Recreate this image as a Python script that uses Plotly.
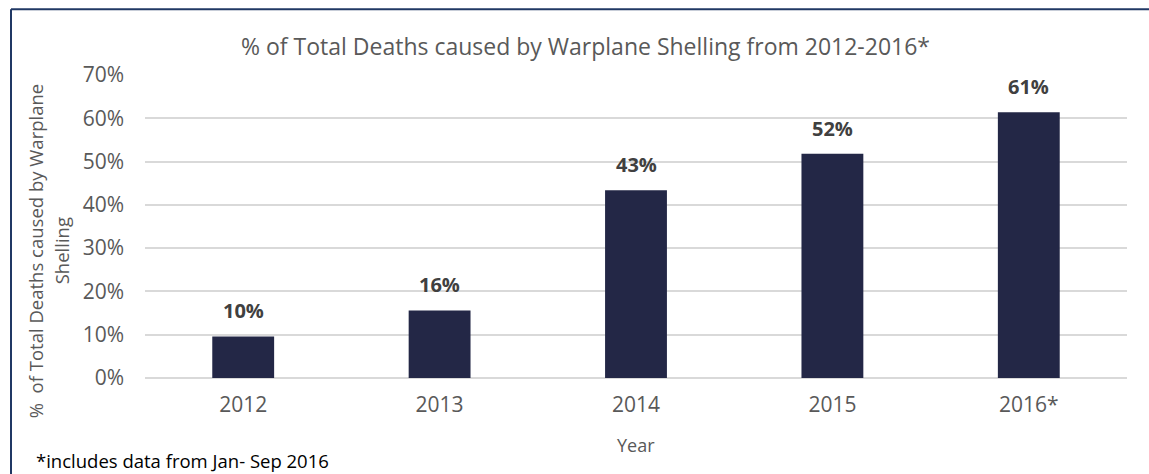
import plotly.graph_objects as go

years = ["2012", "2013", "2014", "2015", "2016*"]
values = [0.096, 0.156, 0.434, 0.518, 0.614]
labels = ["10%", "16%", "43%", "52%", "61%"]
tick_vals = [0, 0.1, 0.2, 0.3, 0.4, 0.5, 0.6, 0.7]
tick_text = ["0%", "10%", "20%", "30%", "40%", "50%", "60%", "70%"]

FONT = "Open Sans"
GREY = "#595959"
W, H = 1149, 474
L, R, T, B = 145, 22, 74.7, 96.3
pw, ph = W - L - R, H - T - B


def px(x):
    return (x - L) / pw


def py(y):
    return (H - B - y) / ph


fig = go.Figure(go.Bar(
    x=years, y=values,
    marker=dict(color="#232746", line=dict(width=0)),
    hoverinfo="skip",
))

# category axis: annotation x is the category's serial index
annotations = [
    dict(x=i, y=v, text=lab, xref="x", yref="y", yanchor="bottom", xanchor="center",
         yshift=10, showarrow=False,
         font=dict(family=FONT, size=20, color="#404040", weight="bold"))
    for i, (v, lab) in enumerate(zip(values, labels))
]
annotations += [
    dict(text="% of Total Deaths caused by Warplane Shelling from 2012-2016*",
         xref="paper", yref="paper", x=px(585), y=py(46), xanchor="center", yanchor="middle",
         showarrow=False, font=dict(family=FONT, size=23, color=GREY)),
    dict(text="%\u00a0\u00a0of Total Deaths caused by Warplane", textangle=-90,
         xref="paper", yref="paper", x=px(35), y=py(251), xanchor="center", yanchor="middle",
         showarrow=False, font=dict(family=FONT, size=18.5, color=GREY)),
    dict(text="Shelling", textangle=-90,
         xref="paper", yref="paper", x=px(61), y=py(251), xanchor="center", yanchor="middle",
         showarrow=False, font=dict(family=FONT, size=18.5, color=GREY)),
    dict(text="Year", xref="paper", yref="paper", x=0.5, y=py(445), xanchor="center",
         yanchor="middle", showarrow=False, font=dict(family=FONT, size=18, color=GREY)),
    dict(text="*includes data from Jan- Sep 2016", xref="paper", yref="paper",
         x=px(34), y=py(460), xanchor="left", yanchor="middle", showarrow=False,
         font=dict(family=FONT, size=18.5, color="#000000")),
]

BORDER = dict(color="#203864", width=2)

fig.update_layout(
    width=W, height=H,
    margin=dict(l=L, r=R, t=T, b=B),
    paper_bgcolor="white", plot_bgcolor="white",
    bargap=0.685,
    showlegend=False,
    font=dict(family=FONT, color=GREY),
    xaxis=dict(type="category", range=[-0.5, len(years) - 0.5], showgrid=False, showline=False,
               ticks="", ticklabelstandoff=12, tickfont=dict(size=21, color=GREY)),
    yaxis=dict(range=[0, 0.7], tickvals=tick_vals, ticktext=tick_text,
               showgrid=True, gridcolor="#d9d9d9", gridwidth=1.6, zeroline=True,
               zerolinecolor="#d9d9d9", zerolinewidth=1.6, showline=False, ticks="",
               ticklabelstandoff=20, tickfont=dict(size=21, color=GREY)),
    annotations=annotations,
    shapes=[
        dict(type="line", xref="paper", yref="paper", x0=px(11), y0=py(9), x1=px(W + 5), y1=py(9),
             line=BORDER, layer="above"),
        dict(type="line", xref="paper", yref="paper", x0=px(11), y0=py(9), x1=px(11), y1=py(H + 5),
             line=BORDER, layer="above"),
    ],
)

fig.write_html("out.html", config={"displayModeBar": False},
               post_script="document.body.style.margin='0';")
